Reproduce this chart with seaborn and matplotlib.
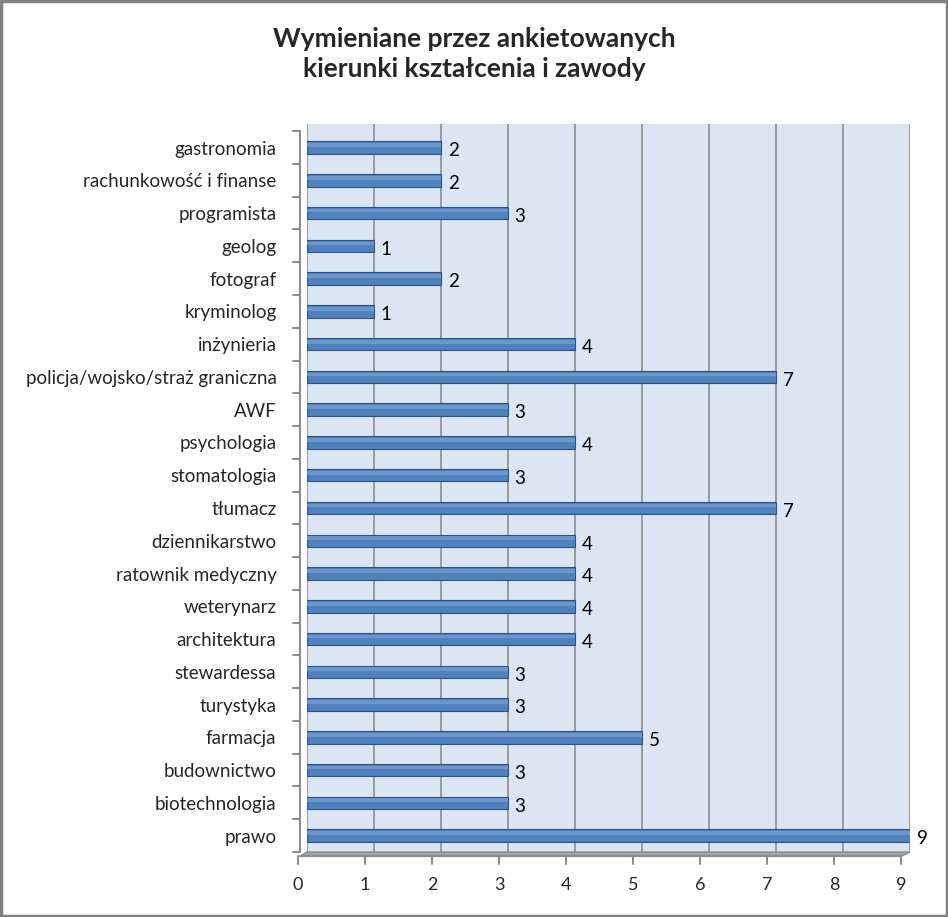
import matplotlib
matplotlib.use("Agg")
import matplotlib.pyplot as plt
import matplotlib.transforms as mtransforms
import seaborn as sns
import pandas as pd
from matplotlib.patches import Rectangle, Polygon

categories = ["gastronomia", "rachunkowość i finanse", "programista", "geolog", "fotograf",
              "kryminolog", "inżynieria", "policja/wojsko/straż graniczna", "AWF", "psychologia",
              "stomatologia", "tłumacz", "dziennikarstwo", "ratownik medyczny", "weterynarz",
              "architektura", "stewardessa", "turystyka", "farmacja", "budownictwo",
              "biotechnologia", "prawo"]
values = [2, 2, 3, 1, 2, 1, 4, 7, 3, 4, 3, 7, 4, 4, 4, 4, 3, 3, 5, 3, 3, 9]
x_ticks = [0, 1, 2, 3, 4, 5, 6, 7, 8, 9]
title = "Wymieniane przez ankietowanych\nkierunki kształcenia i zawody"

df = pd.DataFrame({"kierunek": categories, "liczba": values})

sns.set_theme(style="white")
plt.rcParams["font.family"] = ["Lato", "DejaVu Sans"]

fig = plt.figure(figsize=(9.48, 9.17), dpi=100)
fig.patch.set_facecolor("white")
ax = fig.add_axes([307/948, 1 - 852/917, (910 - 307)/948, (852 - 124)/917])
ax.set_facecolor("#DCE6F2")

sns.barplot(data=df, y="kierunek", x="liczba", orient="h", ax=ax, color="#4F81BD",
            width=0.38, edgecolor="#2E5487", linewidth=0.8, saturation=1)

# highlight strip on bars for cylinder look
for p in ax.patches:
    x0, y0 = p.get_x(), p.get_y()
    w, h = p.get_width(), p.get_height()
    ax.add_patch(Rectangle((x0, y0 + h * 0.15), w, h * 0.3, facecolor="#7FA6D8",
                           edgecolor="none", alpha=0.6, zorder=p.get_zorder() + 0.1))

ax.set_xlim(0, 9)
ax.set_ylim(len(categories) - 0.5, -0.72)
ax.set_xticks(x_ticks)
ax.set_xticklabels([str(t) for t in x_ticks], fontsize=13)
ax.xaxis.grid(True, color="#8C8C8C", linewidth=1.2)
ax.set_axisbelow(True)
ax.set_xlabel("")
ax.set_ylabel("")
ax.tick_params(axis="y", length=0, labelsize=13.5, pad=22)
ax.tick_params(axis="x", length=0, pad=18)
ax.xaxis.set_ticks_position("bottom")

shift = mtransforms.ScaledTranslation(-9/100, 0, fig.dpi_scale_trans)
for lab in ax.get_xticklabels():
    lab.set_transform(lab.get_transform() + shift)

for s in ["top", "right", "left", "bottom"]:
    ax.spines[s].set_visible(False)

# floor of 3D chart
ax.add_patch(Polygon([(0, 0), (1, 0), (0.985, -0.006), (-0.012, -0.006)], closed=True,
                     transform=ax.transAxes, facecolor="#A6A6A6", edgecolor="#8C8C8C",
                     clip_on=False, zorder=0.5))
# left axis line and tick marks
n = len(categories)
blend_y = mtransforms.blended_transform_factory(ax.transAxes, ax.transData)
ax.plot([-0.012, -0.012], [-0.5, n - 0.5], transform=blend_y, color="#8C8C8C",
        lw=1.5, clip_on=False)
ax.plot([-0.012, 0.985], [-0.006, -0.006], transform=ax.transAxes, color="#8C8C8C",
        lw=1.5, clip_on=False)
for i in range(n + 1):
    yy = i - 0.5
    ax.plot([-0.024, -0.012], [yy, yy], transform=blend_y, color="#8C8C8C",
            lw=1.5, clip_on=False)
blend = mtransforms.blended_transform_factory(ax.transData, ax.transAxes)
for t in x_ticks:
    ax.plot([t, t], [-0.006, -0.016], transform=blend + shift, color="#8C8C8C",
            lw=1.5, clip_on=False)

for i, v in enumerate(values):
    ax.text(v + 0.1, i + 0.1, str(v), va="center", ha="left", fontsize=13.5, color="black")

fig.text(0.5, 1 - 27/917, title, ha="center", va="top", fontsize=19, fontweight="bold",
         linespacing=1.3)

fig.add_artist(Rectangle((0.001, 0.001), 0.998, 0.998, transform=fig.transFigure,
                         fill=False, edgecolor="#808080", linewidth=2.5))

fig.savefig("out.png", dpi=100)
